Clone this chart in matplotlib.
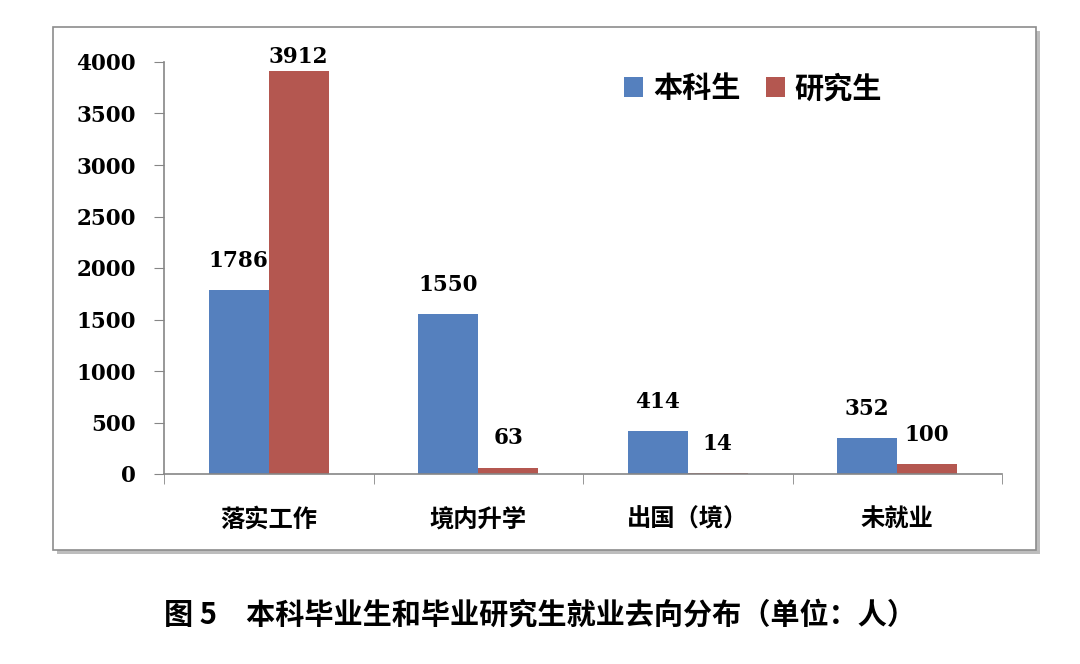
import numpy as np
import matplotlib.pyplot as plt
from matplotlib.patches import Rectangle

plt.rcParams['font.family'] = ['Noto Sans CJK SC', 'DejaVu Sans']

# 数据
categories = ["落实工作", "境内升学", "出国（境）", "未就业"]
undergrad = [1786, 1550, 414, 352]
graduate = [3912, 63, 14, 100]
series_names = ["本科生", "研究生"]
yticks = [0, 500, 1000, 1500, 2000, 2500, 3000, 3500, 4000]
caption = "图 5　本科毕业生和毕业研究生就业去向分布（单位：人）"

blue = "#5580BE"
red = "#B45750"
num_font = dict(family="DejaVu Serif", weight="bold", size=15.5)

fig = plt.figure(figsize=(10.8, 6.64), dpi=100)

# 外框和阴影
fig.patches.append(Rectangle((57 / 1080, 1 - 554 / 664), 983 / 1080, 523 / 664,
                             transform=fig.transFigure, facecolor="#BDBDBD",
                             edgecolor="none", zorder=0))
fig.patches.append(Rectangle((53 / 1080, 1 - 550 / 664), 983 / 1080, 523 / 664,
                             transform=fig.transFigure, facecolor="white",
                             edgecolor="#8C8C8C", linewidth=1.2, zorder=1))

ax = fig.add_axes([164 / 1080, 1 - 474 / 664, 838 / 1080, 412 / 664])
ax.set_facecolor("none")
ax.set_zorder(3)

x = np.arange(len(categories))
w = 0.286
b1 = ax.bar(x - w / 2, undergrad, w, color=blue, label=series_names[0])
b2 = ax.bar(x + w / 2, graduate, w, color=red, label=series_names[1])

for rect, v in zip(b1, undergrad):
    ax.annotate(str(v), (rect.get_x() + rect.get_width() / 2, v),
                xytext=(0, 13), textcoords="offset points", ha="center",
                va="bottom", **num_font)
for rect, v in zip(b2, graduate):
    ax.annotate(str(v), (rect.get_x() + rect.get_width() / 2, v),
                xytext=(0, 2 if v > 1000 else 13), textcoords="offset points",
                ha="center", va="bottom", **num_font)

ax.set_xlim(-0.5, len(categories) - 0.5)
ax.set_ylim(0, 4000)
ax.set_yticks(yticks)
ax.set_yticklabels([str(t) for t in yticks], **num_font)

ax.set_xticks(x)
ax.set_xticklabels(categories, fontsize=17.5, fontweight="bold")
ax.set_xticks(np.arange(-0.5, len(categories)), minor=True)
ax.tick_params(axis="x", which="major", length=0, pad=24)
ax.tick_params(axis="x", which="minor", length=7, color="#868686", direction="out")
ax.tick_params(axis="y", length=7, color="#868686", direction="out", pad=13)

for s in ["top", "right"]:
    ax.spines[s].set_visible(False)
for s in ["left", "bottom"]:
    ax.spines[s].set_color("#868686")
    ax.spines[s].set_linewidth(1.2)

ax.legend(loc="upper left", bbox_to_anchor=(0.518, 1.036), ncol=2, frameon=False,
          prop=dict(family="Noto Sans CJK SC", weight="bold", size=21),
          handlelength=0.65, handleheight=0.65, handletextpad=0.35, columnspacing=0.85)

fig.text(0.5, 1 - 615 / 664, caption, ha="center", va="center",
         fontsize=21, fontweight="bold")

fig.savefig("out.png", dpi=100)
